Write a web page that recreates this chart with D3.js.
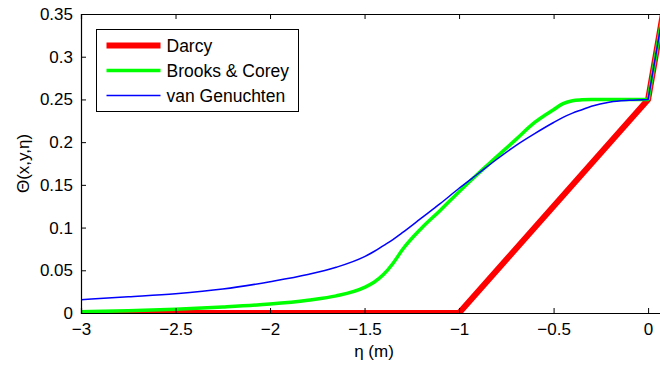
<!DOCTYPE html>
<html>
<head>
<meta charset="utf-8">
<script src="https://cdn.jsdelivr.net/npm/d3@7"></script>
<style>
  body { margin: 0; background: #fff; }
  svg text { font-family: "Liberation Sans", Arial, sans-serif; fill: #000; }
</style>
</head>
<body>
<div id="vizHolder"></div>
<script>
// pressure head eta (m)
var eta = [-3, -2.75, -2.5, -2.25, -2, -1.8, -1.65, -1.5, -1.45, -1.4, -1.35, -1.3, -1.2, -1.1, -1.0,
           -0.9, -0.8, -0.7, -0.6, -0.5, -0.45, -0.4, -0.35, -0.3, -0.2, -0.1, 0, 0.1];

var darcyEta = [-3, -1, 0, 0.1],
    darcyVal = [0, 0, 0.25, 0.378];

var brooksVal = [0.0015, 0.0025, 0.0045, 0.007, 0.0105, 0.015, 0.02, 0.03, 0.036, 0.045, 0.058, 0.074, 0.099, 0.12, 0.142,
                 0.163, 0.183, 0.203, 0.223, 0.238, 0.245, 0.2485, 0.2495, 0.25, 0.25, 0.25, 0.25, 0.378];

var vanGVal = [0.0156, 0.019, 0.0226, 0.028, 0.0366, 0.045, 0.0535, 0.066, 0.072, 0.079, 0.086, 0.094, 0.111, 0.128, 0.146,
               0.163, 0.18, 0.196, 0.21, 0.223, 0.229, 0.234, 0.238, 0.242, 0.247, 0.249, 0.25, 0.378];

var xTicks = [-3, -2.5, -2, -1.5, -1, -0.5, 0],
    yTicks = [0, 0.05, 0.1, 0.15, 0.2, 0.25, 0.3, 0.35];

var seriesNames = ['Darcy', 'Brooks & Corey', 'van Genuchten'],
    seriesColors = ['#ff0000', '#00ff00', '#0000ff'],
    seriesWidths = [6, 3.5, 1.5];

var width = 660, height = 366,
    padL = 81, padT = 14, padR = 667, padB = 313;

var x = d3.scaleLinear().domain([-3, 0.1]).range([padL, padR]),
    y = d3.scaleLinear().domain([0, 0.35]).range([padB, padT]);

var svg = d3.select('#vizHolder').append('svg')
    .attr('width', width).attr('height', height);

svg.append('clipPath').attr('id', 'plotClip')
  .append('rect')
    .attr('x', padL).attr('y', padT)
    .attr('width', padR - padL).attr('height', padB - padT);

var fmt = function(d){ return d < 0 ? '\u2212' + Math.abs(d) : String(d); };

// lines: darcy is piecewise linear, the two retention curves are smooth up to eta=0,
// then all share the straight ponding segment
var line = d3.line().x(function(d){ return x(d[0]); }).y(function(d){ return y(d[1]); });
var smooth = d3.line().x(function(d){ return x(d[0]); }).y(function(d){ return y(d[1]); }).curve(d3.curveMonotoneX);

function drawSeries(d, i){
	if (i === 0) return line(d);
	var last = d[d.length - 1];
	return smooth(d.slice(0, -1)) + 'L' + x(last[0]) + ',' + y(last[1]);
}

var seriesData = [
  darcyEta.map(function(e, i){ return [e, darcyVal[i]]; }),
  eta.map(function(e, i){ return [e, brooksVal[i]]; }),
  eta.map(function(e, i){ return [e, vanGVal[i]]; })
];

svg.append('g').attr('clip-path', 'url(#plotClip)')
  .selectAll('path.series').data(seriesData)
  .enter().append('path')
    .attr('class', 'series')
    .attr('fill', 'none')
    .attr('stroke', function(d, i){ return seriesColors[i]; })
    .attr('stroke-width', function(d, i){ return seriesWidths[i]; })
    .attr('stroke-linejoin', 'round')
    .attr('d', drawSeries);

// axes, ticks pointing inward like matlab
svg.append('g').attr('transform', 'translate(0,' + padB + ')')
    .call(d3.axisBottom(x).tickValues(xTicks).tickSize(-5).tickPadding(10).tickFormat(fmt));
svg.append('g').attr('transform', 'translate(0,' + padT + ')')
    .call(d3.axisTop(x).tickValues(xTicks).tickSize(-5).tickFormat(''));
svg.append('g').attr('transform', 'translate(' + padL + ',0)')
    .call(d3.axisLeft(y).tickValues(yTicks).tickSize(-5).tickPadding(8).tickFormat(function(d){ return String(+d.toFixed(2)); }));
svg.append('g').attr('transform', 'translate(' + padR + ',0)')
    .call(d3.axisRight(y).tickValues(yTicks).tickSize(-5).tickFormat(''));

svg.selectAll('.domain').attr('stroke', '#000').attr('stroke-width', 1.2);
svg.selectAll('.tick line').attr('stroke', '#000');
svg.selectAll('.tick text').style('font-size', '17px');

// axis labels
svg.append('text')
    .attr('x', (padL + padR) / 2).attr('y', 357)
    .attr('text-anchor', 'middle')
    .style('font-size', '17px')
    .text('\u03b7 (m)');

svg.append('text')
    .attr('transform', 'translate(29,' + (padT + padB) / 2 + ') rotate(-90)')
    .attr('text-anchor', 'middle')
    .style('font-size', '17px')
    .text('\u0398(x,y,\u03b7)');

// legend
var legend = svg.append('g').attr('transform', 'translate(96.5,29.5)');
legend.append('rect')
    .attr('width', 202).attr('height', 82)
    .attr('fill', '#fff').attr('stroke', '#000').attr('stroke-width', 1);

var item = legend.selectAll('g.item').data(seriesNames)
  .enter().append('g')
    .attr('class', 'item')
    .attr('transform', function(d, i){ return 'translate(0,' + (16 + i * 25) + ')'; });

item.append('line')
    .attr('x1', 10).attr('x2', 64)
    .attr('stroke', function(d, i){ return seriesColors[i]; })
    .attr('stroke-width', function(d, i){ return seriesWidths[i]; });

item.append('text')
    .attr('x', 70).attr('dy', '0.36em')
    .style('font-size', '17.5px')
    .text(function(d){ return d; });
</script>
</body>
</html>
